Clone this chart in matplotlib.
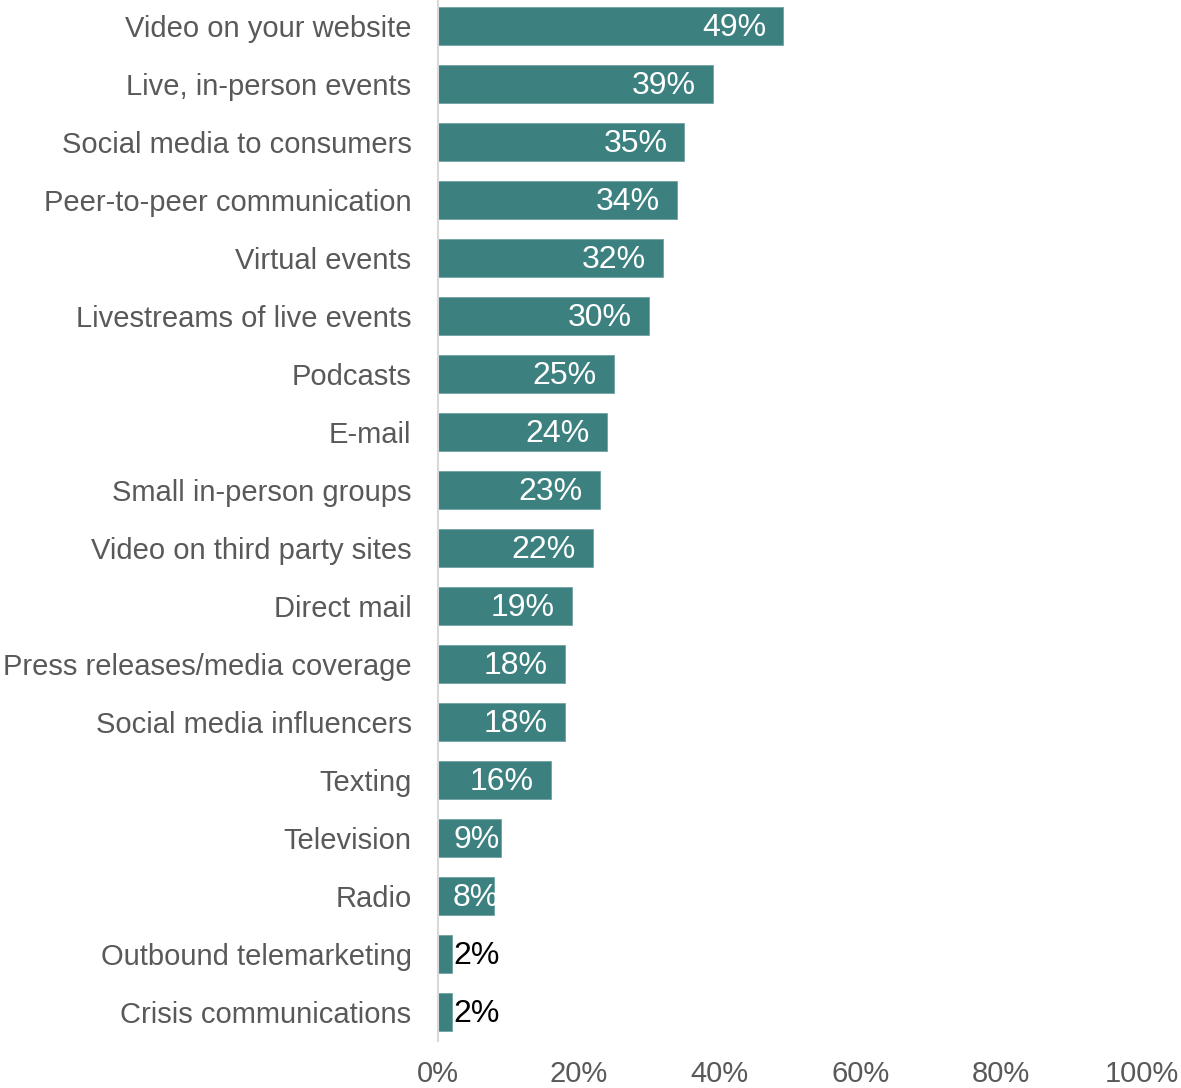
import matplotlib.pyplot as plt

plt.rcParams["font.family"] = ["Liberation Sans", "DejaVu Sans"]

categories = [
    "Video on your website",
    "Live, in-person events",
    "Social media to consumers",
    "Peer-to-peer communication",
    "Virtual events",
    "Livestreams of live events",
    "Podcasts",
    "E-mail",
    "Small in-person groups",
    "Video on third party sites",
    "Direct mail",
    "Press releases/media coverage",
    "Social media influencers",
    "Texting",
    "Television",
    "Radio",
    "Outbound telemarketing",
    "Crisis communications",
]
values = [49, 39, 35, 34, 32, 30, 25, 24, 23, 22, 19, 18, 18, 16, 9, 8, 2, 2]
xticks = [0, 20, 40, 60, 80, 100]

BAR_COLOR = "#3C8180"
TEXT_GRAY = "#595959"
FS = 21
LABEL_FS = 23

fig = plt.figure(figsize=(11.81, 10.88), dpi=100)
ax = fig.add_axes([438 / 1181, 47 / 1088, (1142 - 438) / 1181, 1044 / 1088])

ypos = list(range(len(categories)))
bars = ax.barh(ypos, values, height=0.65, color=BAR_COLOR, edgecolor="#6FA3A2", linewidth=0.6)

ax.set_xlim(0, 100)
ax.set_ylim(len(categories) - 0.5, -0.5)
ax.set_yticks(ypos)
ax.set_yticklabels(categories, fontsize=FS, color=TEXT_GRAY)
ax.set_xticks(xticks)
ax.set_xticklabels([f"{t}%" for t in xticks], fontsize=FS, color=TEXT_GRAY)
ax.tick_params(axis="y", length=0, pad=19)
ax.tick_params(axis="x", length=0, pad=14)

for side in ("top", "right", "bottom"):
    ax.spines[side].set_visible(False)
ax.spines["left"].set_color("#D9D9D9")
ax.spines["left"].set_linewidth(1.5)

# value labels: inside the bar end, but never closer to the axis than min_left
fig.canvas.draw()
renderer = fig.canvas.get_renderer()
px = 100 / ax.get_window_extent().width  # data units per pixel
inset = 17 * px
min_left = 15 * px
for y, v, bar in zip(ypos, values, bars):
    t = ax.text(0, y + 0.03, f"{v}%", fontsize=LABEL_FS, va="center", ha="left")
    w = t.get_window_extent(renderer).width * px
    x_left = max(v - inset - w, min_left)
    t.set_x(x_left)
    if x_left >= v:
        t.set_color("black")
    else:
        t.set_color("white")
        t.set_clip_path(bar)

fig.savefig("out.png", dpi=100)
